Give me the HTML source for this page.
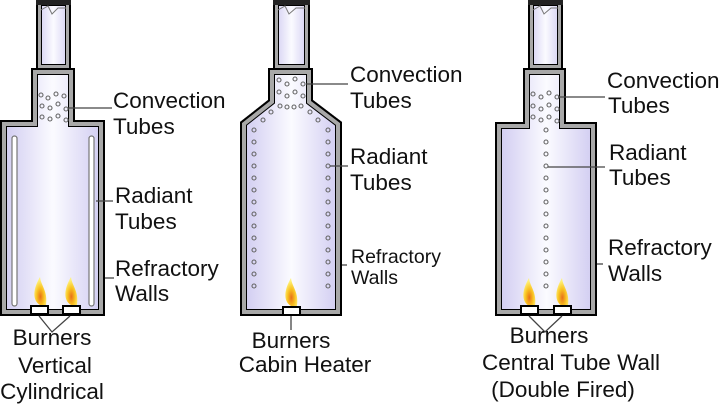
<!DOCTYPE html>
<html><head><meta charset="utf-8"><style>
html,body{margin:0;padding:0;background:#fff;width:720px;height:406px;overflow:hidden}
svg{display:block}
text{font-family:"Liberation Sans",sans-serif;fill:#111}
</style></head><body>
<svg width="720" height="406" viewBox="0 0 720 406" xmlns="http://www.w3.org/2000/svg">
<defs>
<linearGradient id="g" x1="0" x2="1" y1="0" y2="0">
<stop offset="0" stop-color="#cdc8f0"/><stop offset="0.5" stop-color="#fbfbff"/><stop offset="1" stop-color="#cdc8f0"/>
</linearGradient>
<radialGradient id="fl" cx="0.5" cy="0.7" r="0.6">
<stop offset="0" stop-color="#e8701a"/><stop offset="0.5" stop-color="#f8c020"/><stop offset="1" stop-color="#fff27a"/>
</radialGradient>
<clipPath id="c1"><path id="p1" d="M31,68H75V120H105V316H0V120H31Z"/></clipPath>
<clipPath id="c1c"><rect id="r1" x="36" y="0" width="35" height="70"/></clipPath>
<clipPath id="c2"><path id="p2" d="M268,68H313V100L342,122V316H240V122L268,100Z"/></clipPath>
<clipPath id="c2c"><rect id="r2" x="273" y="0" width="37" height="70"/></clipPath>
<clipPath id="c3"><path id="p3" d="M523,68H566V122H597V316H495V122H523Z"/></clipPath>
<clipPath id="c3c"><rect id="r3" x="528" y="0" width="35" height="70"/></clipPath>
</defs>

<g clip-path="url(#c1c)"><rect x="36" y="0" width="35" height="70" fill="url(#g)"/><use href="#r1" fill="none" stroke="#000" stroke-width="12"/><use href="#r1" fill="none" stroke="#a8a8a8" stroke-width="10"/><use href="#r1" fill="none" stroke="#000" stroke-width="4"/></g>
<g clip-path="url(#c2c)"><rect x="273" y="0" width="37" height="70" fill="url(#g)"/><use href="#r2" fill="none" stroke="#000" stroke-width="12"/><use href="#r2" fill="none" stroke="#a8a8a8" stroke-width="10"/><use href="#r2" fill="none" stroke="#000" stroke-width="4"/></g>
<g clip-path="url(#c3c)"><rect x="528" y="0" width="35" height="70" fill="url(#g)"/><use href="#r3" fill="none" stroke="#000" stroke-width="12"/><use href="#r3" fill="none" stroke="#a8a8a8" stroke-width="10"/><use href="#r3" fill="none" stroke="#000" stroke-width="4"/></g>
<rect x="36" y="0" width="35" height="5" fill="#222"/>
<rect x="273" y="0" width="37" height="5" fill="#222"/>
<rect x="528" y="0" width="35" height="5" fill="#222"/>
<g fill="none" stroke="#777" stroke-width="1">
<path d="M41,10L48,6L52,14L58,8L66,8"/><path d="M278,10L285,6L289,14L296,8L305,8"/><path d="M533,10L540,6L544,14L551,8L558,8"/>
</g>

<g clip-path="url(#c1)"><rect x="0" y="60" width="106" height="260" fill="url(#g)"/><use href="#p1" fill="none" stroke="#000" stroke-width="14"/><use href="#p1" fill="none" stroke="#a8a8a8" stroke-width="12"/><use href="#p1" fill="none" stroke="#000" stroke-width="4"/></g>
<g clip-path="url(#c2)"><rect x="240" y="60" width="103" height="260" fill="url(#g)"/><use href="#p2" fill="none" stroke="#000" stroke-width="14"/><use href="#p2" fill="none" stroke="#a8a8a8" stroke-width="12"/><use href="#p2" fill="none" stroke="#000" stroke-width="4"/></g>
<g clip-path="url(#c3)"><rect x="495" y="60" width="103" height="260" fill="url(#g)"/><use href="#p3" fill="none" stroke="#000" stroke-width="14"/><use href="#p3" fill="none" stroke="#a8a8a8" stroke-width="12"/><use href="#p3" fill="none" stroke="#000" stroke-width="4"/></g>

<rect x="12" y="136" width="5" height="170" rx="2.5" fill="#fff" stroke="#777" stroke-width="1.2"/>
<rect x="89" y="136" width="5" height="170" rx="2.5" fill="#fff" stroke="#777" stroke-width="1.2"/>

<g fill="none" stroke="#666" stroke-width="1.1">
<circle cx="41" cy="95" r="2"/><circle cx="48" cy="98" r="2"/><circle cx="56" cy="94" r="2"/><circle cx="64" cy="96" r="2"/>
<circle cx="42" cy="106" r="2"/><circle cx="50" cy="108" r="2"/><circle cx="58" cy="104" r="2"/><circle cx="66" cy="109" r="2"/>
<circle cx="42" cy="117" r="2"/><circle cx="50" cy="119" r="2"/><circle cx="58" cy="116" r="2"/><circle cx="66" cy="120" r="2"/>

<circle cx="279" cy="80" r="2"/><circle cx="287" cy="84" r="2"/><circle cx="295" cy="79" r="2"/><circle cx="303" cy="84" r="2"/>
<circle cx="279" cy="92" r="2"/><circle cx="287" cy="96" r="2"/><circle cx="295" cy="92" r="2"/><circle cx="303" cy="96" r="2"/>
<circle cx="280" cy="106" r="2"/><circle cx="287" cy="107" r="2"/><circle cx="294" cy="107" r="2"/><circle cx="301" cy="106" r="2"/>
<circle cx="271" cy="112" r="2"/><circle cx="263" cy="120" r="2"/><circle cx="310" cy="112" r="2"/><circle cx="318" cy="120" r="2"/>
<circle cx="254" cy="130" r="2"/><circle cx="254" cy="142" r="2"/><circle cx="254" cy="154" r="2"/><circle cx="254" cy="166" r="2"/><circle cx="254" cy="178" r="2"/><circle cx="254" cy="190" r="2"/><circle cx="254" cy="202" r="2"/><circle cx="254" cy="214" r="2"/><circle cx="254" cy="226" r="2"/><circle cx="254" cy="238" r="2"/><circle cx="254" cy="250" r="2"/><circle cx="254" cy="262" r="2"/><circle cx="254" cy="274" r="2"/><circle cx="254" cy="286" r="2"/>
<circle cx="328" cy="130" r="2"/><circle cx="328" cy="142" r="2"/><circle cx="328" cy="154" r="2"/><circle cx="328" cy="166" r="2"/><circle cx="328" cy="178" r="2"/><circle cx="328" cy="190" r="2"/><circle cx="328" cy="202" r="2"/><circle cx="328" cy="214" r="2"/><circle cx="328" cy="226" r="2"/><circle cx="328" cy="238" r="2"/><circle cx="328" cy="250" r="2"/><circle cx="328" cy="262" r="2"/><circle cx="328" cy="274" r="2"/><circle cx="328" cy="286" r="2"/>

<circle cx="533" cy="94" r="2"/><circle cx="541" cy="97" r="2"/><circle cx="549" cy="93" r="2"/><circle cx="557" cy="97" r="2"/>
<circle cx="533" cy="106" r="2"/><circle cx="541" cy="109" r="2"/><circle cx="549" cy="105" r="2"/><circle cx="557" cy="109" r="2"/>
<circle cx="533" cy="117" r="2"/><circle cx="541" cy="120" r="2"/><circle cx="549" cy="117" r="2"/><circle cx="557" cy="121" r="2"/>
<circle cx="546" cy="130" r="2"/><circle cx="546" cy="142" r="2"/><circle cx="546" cy="154" r="2"/><circle cx="546" cy="166" r="2"/><circle cx="546" cy="178" r="2"/><circle cx="546" cy="190" r="2"/><circle cx="546" cy="202" r="2"/><circle cx="546" cy="214" r="2"/><circle cx="546" cy="226" r="2"/><circle cx="546" cy="238" r="2"/><circle cx="546" cy="250" r="2"/><circle cx="546" cy="262" r="2"/><circle cx="546" cy="274" r="2"/><circle cx="546" cy="286" r="2"/>
</g>

<g>
<path d="M40,305C32,300 33,289 40,277C41,286 48,291 46,305Z" fill="url(#fl)"/>
<path d="M71,305C63,300 64,289 71,277C72,286 79,291 77,305Z" fill="url(#fl)"/>
<path d="M291,306C283,301 284,290 291,278C292,287 299,292 297,306Z" fill="url(#fl)"/>
<path d="M529,306C521,301 522,290 529,278C530,287 537,292 535,306Z" fill="url(#fl)"/>
<path d="M562,306C554,301 555,290 562,278C563,287 570,292 568,306Z" fill="url(#fl)"/>
</g>
<g fill="#fff" stroke="#000" stroke-width="2">
<rect x="31" y="306" width="17" height="8"/><rect x="63" y="306" width="17" height="8"/>
<rect x="283" y="307" width="17" height="8"/>
<rect x="521" y="306" width="17" height="8"/><rect x="554" y="306" width="17" height="8"/>
</g>

<g fill="none" stroke="#444" stroke-width="1.3">
<path d="M68,108H112"/><path d="M96,201H113"/><path d="M105,278H114"/>
<path d="M39,316L52,332L70,316"/>
<path d="M306,84H348"/><path d="M330,166H348"/><path d="M342,265H347"/><path d="M291,316V330"/>
<path d="M558,97H605"/><path d="M548,167H605"/><path d="M597,264H603"/>
<path d="M529,316L545,332L562,316"/>
</g>

<g font-size="22.5">
<text x="113" y="108">Convection</text><text x="113" y="134">Tubes</text>
<text x="115" y="203">Radiant</text><text x="115" y="229">Tubes</text>
<text x="115" y="276">Refractory</text><text x="115" y="301">Walls</text>
<text x="52" y="345" text-anchor="middle">Burners</text>
<text x="55" y="373" text-anchor="middle">Vertical</text>
<text x="52" y="399" text-anchor="middle">Cylindrical</text>

<text x="350" y="82">Convection</text><text x="350" y="108">Tubes</text>
<text x="350" y="164">Radiant</text><text x="350" y="190">Tubes</text>
<text x="351" y="263" font-size="19.5">Refractory</text><text x="351" y="284" font-size="19.5">Walls</text>
<text x="291" y="348" text-anchor="middle">Burners</text>
<text x="305" y="372" text-anchor="middle">Cabin Heater</text>

<text x="607" y="88">Convection</text><text x="608" y="113">Tubes</text>
<text x="609" y="160">Radiant</text><text x="609" y="185">Tubes</text>
<text x="608" y="255">Refractory</text><text x="608" y="281">Walls</text>
<text x="549" y="343" text-anchor="middle">Burners</text>
<text x="571" y="370" text-anchor="middle">Central Tube Wall</text>
<text x="563" y="397" text-anchor="middle">(Double Fired)</text>
</g>
</svg>
</body></html>
